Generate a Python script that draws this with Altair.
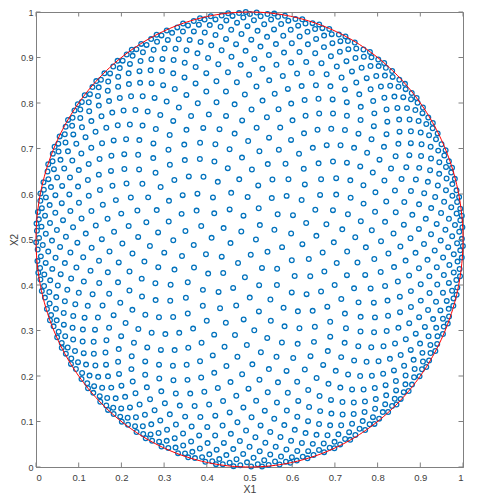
import math
import numpy as np
import pandas as pd
import altair as alt

# --- values -------------------------------------------------------------
N_POINTS = 1100                     # estimated number of design points
GOLDEN_ANGLE = math.pi * (3 - math.sqrt(5))
CENTER = [0.5, 0.5]
RADIUS = 0.5
TICKS = [0, 0.1, 0.2, 0.3, 0.4, 0.5, 0.6, 0.7, 0.8, 0.9, 1]
X_TITLE = "X1"
Y_TITLE = "X2"

# spiral (Fibonacci hemisphere projected onto the disk)
k = np.arange(N_POINTS)
z = 1 - (k + 0.5) / N_POINTS
r = np.sqrt(1 - z ** 2)
th = k * GOLDEN_ANGLE
pts = pd.DataFrame({
    "x1": CENTER[0] + RADIUS * r * np.cos(th),
    "x2": CENTER[1] + RADIUS * r * np.sin(th),
})

t = np.linspace(0, 2 * math.pi, 361)
circ = pd.DataFrame({
    "x1": CENTER[0] + RADIUS * np.cos(t),
    "x2": CENTER[1] + RADIUS * np.sin(t),
    "o": np.arange(len(t)),
})
ticks = pd.DataFrame({"v": TICKS})

W, H = 427, 455
TL = 4.5
AX = "#808080"
TXT = "#404040"
FONT = "Liberation Sans"

xs = alt.Scale(domain=[0, 1], nice=False, zero=False)
ys = alt.Scale(domain=[0, 1], nice=False, zero=False)

xaxis = alt.Axis(values=TICKS, format=".1~f", ticks=False, grid=False,
                 domainColor=AX, labelColor=TXT, labelFont=FONT, labelFontSize=9.5,
                 labelPadding=5, title=X_TITLE, titleFont=FONT, titleFontSize=10.5,
                 titleFontWeight="normal", titleColor=TXT, titlePadding=3)
yaxis = alt.Axis(values=TICKS, format=".1~f", ticks=False, grid=False,
                 domainColor=AX, labelColor=TXT, labelFont=FONT, labelFontSize=9,
                 labelPadding=3, title=Y_TITLE, titleFont=FONT, titleFontSize=10,
                 titleFontWeight="normal", titleColor=TXT,
                 titleX=-22, titleBaseline="middle")

points = alt.Chart(pts).mark_point(
    shape="circle", filled=False, color="#0072BD", size=22, strokeWidth=1.3, opacity=1
).encode(x=alt.X("x1:Q", scale=xs, axis=xaxis), y=alt.Y("x2:Q", scale=ys, axis=yaxis))

circle = alt.Chart(circ).mark_line(color="#FF0000", strokeWidth=1).encode(
    x=alt.X("x1:Q", scale=xs), y=alt.Y("x2:Q", scale=ys), order="o:Q")

tb = alt.Chart(ticks).mark_rule(color=AX, strokeWidth=1).encode(
    x=alt.X("v:Q", scale=xs), y=alt.value(H), y2=alt.value(H - TL))
tt = alt.Chart(ticks).mark_rule(color=AX, strokeWidth=1).encode(
    x=alt.X("v:Q", scale=xs), y=alt.value(0), y2=alt.value(TL))
tl = alt.Chart(ticks).mark_rule(color=AX, strokeWidth=1).encode(
    y=alt.Y("v:Q", scale=ys), x=alt.value(0), x2=alt.value(TL))
tr = alt.Chart(ticks).mark_rule(color=AX, strokeWidth=1).encode(
    y=alt.Y("v:Q", scale=ys), x=alt.value(W), x2=alt.value(W - TL))

chart = alt.layer(points, circle, tb, tt, tl, tr).properties(
    width=W, height=H,
    autosize=alt.AutoSizeParams(type="none"),
    padding={"left": 28, "top": 4, "right": 27, "bottom": 32},
).configure_view(stroke=AX, strokeWidth=1)

chart.save("out.html", embed_options={"renderer": "svg", "actions": False})
